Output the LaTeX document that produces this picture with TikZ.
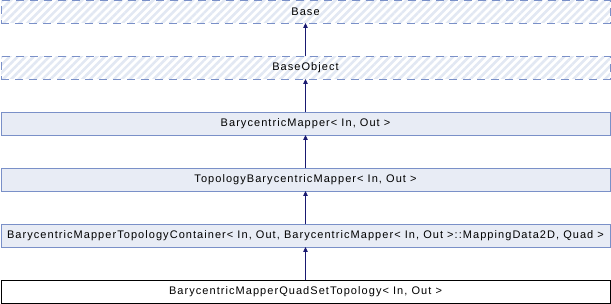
\documentclass[tikz,border=0pt]{standalone}
\usepackage{fontspec}
\setmainfont{Liberation Sans}[LetterSpace=9.6]
\usetikzlibrary{arrows.meta, positioning, patterns.meta}
\definecolor{edgeblue}{RGB}{122,144,200}
\definecolor{boxfill}{RGB}{232,236,245}
\definecolor{hatchblue}{RGB}{226,232,243}
\definecolor{linkblue}{RGB}{25,25,112}

\tikzset{
  cls/.style={draw=edgeblue, line width=0.9pt, fill=boxfill, minimum width=609pt,
    minimum height=22.5pt, inner sep=0pt, outer sep=0pt, font=\fontsize{11}{13}\selectfont},
  hidden/.style={cls, fill=none, dash pattern=on 8pt off 6pt,
    pattern={Lines[angle=45, distance=5.6pt, line width=2.6pt]}, pattern color=hatchblue},
  this/.style={cls, draw=black, fill=white},
  inherit/.style={draw=linkblue, line width=0.8pt, -{Triangle[length=5pt, width=4.5pt]}},
}

\begin{document}
\begin{tikzpicture}[x=1pt, y=-1pt, node distance=33.5pt]
\useasboundingbox (0,0) rectangle (611,304);
\node[hidden] (base) at (305.5,11.75) {Base};
\node[hidden, below=of base] (baseobj) {BaseObject};
\node[cls, below=of baseobj] (mapper) {BarycentricMapper< In, Out >};
\node[cls, below=of mapper] (topomapper) {TopologyBarycentricMapper< In, Out >};
\node[cls, below=of topomapper] (container)
  {BarycentricMapperTopologyContainer< In, Out, BarycentricMapper< In, Out >::MappingData2D, Quad >};
\node[this, below=of container] (quadset) {BarycentricMapperQuadSetTopology< In, Out >};
% inheritance links
\draw[inherit] (baseobj) -- (base);
\draw[inherit] (mapper) -- (baseobj);
\draw[inherit] (topomapper) -- (mapper);
\draw[inherit] (container) -- (topomapper);
\draw[inherit] (quadset) -- (container);
\end{tikzpicture}
\end{document}
